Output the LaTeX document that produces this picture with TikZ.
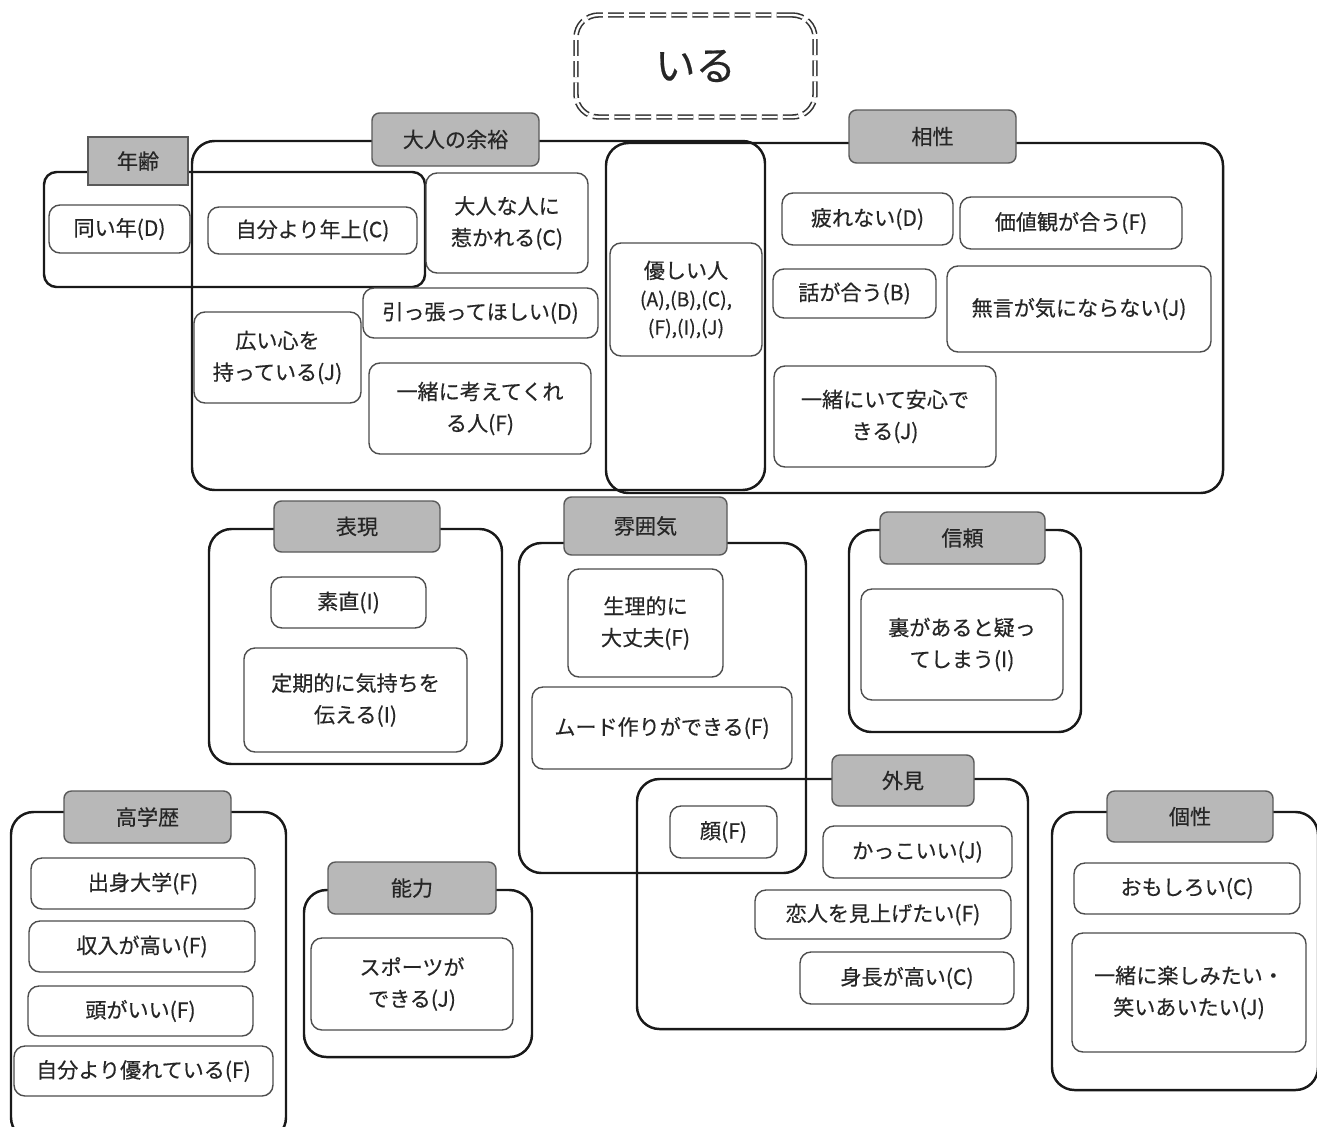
\documentclass[tikz,border=0pt]{standalone}
\usepackage{fontspec}
\setmainfont{Noto Sans CJK JP}[FakeBold=0.4]
\newcommand\bx[7][]{\node[#1, minimum width={(#5-#3)*0.02cm}, minimum height={(#6-#4)*0.02cm}] (#2) at ({(#3+#5)/2},{(#4+#6)/2}) {#7};}
\tikzset{
 grp/.style={draw=black!90, line width=1.4pt, rounded corners=0.45cm, inner sep=0pt, outer sep=0pt},
 item/.style={draw=black!70, line width=0.8pt, rounded corners=0.22cm, fill=white, align=center, inner sep=0pt, outer sep=0pt, font=\fontsize{12}{18}\selectfont, text=black!85},
 hdr/.style={draw=black!65, line width=0.8pt, fill=black!28, rounded corners=0.15cm, inner sep=0pt, outer sep=0pt, font=\fontsize{12}{18}\selectfont, text=black!85},
 titlebox/.style={draw=black!80, line width=0.9pt, double=white, double distance=1.3pt, dash pattern=on 9pt off 3pt, rounded corners=0.45cm, inner sep=0pt, outer sep=0pt, font=\fontsize{23}{28}\selectfont, text=black!85},
}
\begin{document}
\begin{tikzpicture}[x=0.02cm, y=-0.02cm]
\useasboundingbox (0,0) rectangle (1317,1126);
% title
\bx[titlebox]{title}{576}{15}{815}{117}{いる}
% groups
\bx[grp, rounded corners=0.25cm]{gnenrei}{44}{172}{425}{287}{}
\bx[grp]{gotona}{192}{141}{765}{490}{}
\bx[grp]{gaisho}{606}{143}{1223}{493}{}
\bx[grp]{ghyogen}{209}{529}{502}{764}{}
\bx[grp]{gfun}{519}{543}{806}{873}{}
\bx[grp]{gshinrai}{849}{530}{1081}{732}{}
\bx[grp]{ggaiken}{637}{779}{1028}{1029}{}
\bx[grp]{gkosei}{1052}{812}{1318}{1090}{}
\bx[grp]{ggaku}{11}{812}{286}{1140}{}
\bx[grp]{gnoryoku}{304}{890}{532}{1057}{}
% headers
\bx[hdr, rounded corners=0pt]{hnenrei}{88}{137}{188}{185}{年齢}
\bx[hdr]{hotona}{372}{113}{539}{166}{大人の余裕}
\bx[hdr]{haisho}{849}{110}{1016}{163}{相性}
\bx[hdr]{hhyogen}{274}{501}{440}{552}{表現}
\bx[hdr]{hfun}{564}{497}{727}{555}{雰囲気}
\bx[hdr]{hshinrai}{880}{512}{1045}{564}{信頼}
\bx[hdr]{hgaiken}{832}{755}{974}{806}{外見}
\bx[hdr]{hkosei}{1107}{791}{1273}{842}{個性}
\bx[hdr]{hgaku}{64}{791}{231}{843}{高学歴}
\bx[hdr]{hnoryoku}{328}{862}{496}{914}{能力}
% items
\bx[item]{i1}{49}{205}{190}{253}{同い年(D)}
\bx[item]{i2}{208}{207}{417}{254}{自分より年上(C)}
\bx[item]{i3}{426}{173}{588}{273}{大人な人に\\惹かれる(C)}
\bx[item]{i4}{363}{288}{598}{338}{引っ張ってほしい(D)}
\bx[item]{i5}{194}{312}{361}{403}{広い心を\\持っている(J)}
\bx[item]{i6}{369}{363}{591}{454}{一緒に考えてくれ\\る人(F)}
\bx[item, font=\fontsize{11}{16}\selectfont]{i7}{610}{243}{762}{356}{{\fontsize{12}{16}\selectfont 優しい人}\\(A),(B),(C),\\(F),(I),(J)}
\bx[item]{i8}{782}{193}{953}{245}{疲れない(D)}
\bx[item]{i9}{960}{197}{1182}{249}{価値観が合う(F)}
\bx[item]{i10}{773}{269}{936}{318}{話が合う(B)}
\bx[item]{i11}{947}{266}{1211}{352}{無言が気にならない(J)}
\bx[item]{i12}{774}{366}{996}{467}{一緒にいて安心で\\きる(J)}
\bx[item]{i13}{271}{577}{426}{628}{素直(I)}
\bx[item]{i14}{244}{648}{467}{752}{定期的に気持ちを\\伝える(I)}
\bx[item]{i15}{568}{569}{723}{677}{生理的に\\大丈夫(F)}
\bx[item]{i16}{532}{687}{792}{769}{ムード作りができる(F)}
\bx[item]{i17}{861}{589}{1063}{700}{裏があると疑っ\\てしまう(I)}
\bx[item]{i18}{670}{806}{777}{858}{顔(F)}
\bx[item]{i19}{823}{826}{1012}{878}{かっこいい(J)}
\bx[item]{i20}{755}{890}{1011}{939}{恋人を見上げたい(F)}
\bx[item]{i21}{800}{952}{1014}{1004}{身長が高い(C)}
\bx[item]{i22}{1074}{863}{1300}{914}{おもしろい(C)}
\bx[item]{i23}{1072}{933}{1306}{1052}{一緒に楽しみたい・\\笑いあいたい(J)}
\bx[item]{i24}{31}{858}{255}{909}{出身大学(F)}
\bx[item]{i25}{29}{921}{255}{972}{収入が高い(F)}
\bx[item]{i26}{28}{986}{253}{1036}{頭がいい(F)}
\bx[item]{i27}{14}{1046}{273}{1096}{自分より優れている(F)}
\bx[item]{i28}{311}{938}{513}{1030}{スポーツが\\できる(J)}
\end{tikzpicture}
\end{document}
